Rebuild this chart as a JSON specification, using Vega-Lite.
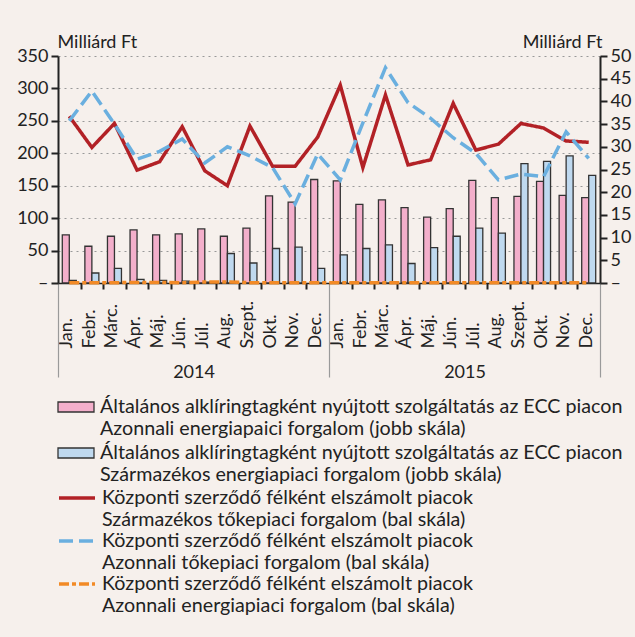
{
  "$schema": "https://vega.github.io/schema/vega-lite/v6.json",
  "width": 542,
  "height": 227,
  "autosize": {"type": "none"},
  "padding": {"left": 58, "top": 56, "right": 35, "bottom": 354},
  "background": "#f6f0ec",
  "config": {
    "view": {"stroke": null},
    "font": "Lato",
    "axis": {"labelFont": "Lato", "titleFont": "Lato", "labelColor": "#222", "titleColor": "#222", "labelFontSize": 18, "titleFontSize": 18, "titleFontWeight": "normal", "labelOverlap": false, "labelBound": false, "labelFlush": false},
    "legend": {"labelFont": "Lato", "labelFontSize": 19.7, "labelColor": "#222", "labelLimit": 800}
  },
  "datasets": {
    "bars": [
      {"month": "2014-01", "series": "Általános alklíringtagként nyújtott szolgáltatás az ECC piacon\nAzonnali energiapaici forgalom (jobb skála)", "value": 10.6},
      {"month": "2014-02", "series": "Általános alklíringtagként nyújtott szolgáltatás az ECC piacon\nAzonnali energiapaici forgalom (jobb skála)", "value": 8.1},
      {"month": "2014-03", "series": "Általános alklíringtagként nyújtott szolgáltatás az ECC piacon\nAzonnali energiapaici forgalom (jobb skála)", "value": 10.3},
      {"month": "2014-04", "series": "Általános alklíringtagként nyújtott szolgáltatás az ECC piacon\nAzonnali energiapaici forgalom (jobb skála)", "value": 11.7},
      {"month": "2014-05", "series": "Általános alklíringtagként nyújtott szolgáltatás az ECC piacon\nAzonnali energiapaici forgalom (jobb skála)", "value": 10.6},
      {"month": "2014-06", "series": "Általános alklíringtagként nyújtott szolgáltatás az ECC piacon\nAzonnali energiapaici forgalom (jobb skála)", "value": 10.8},
      {"month": "2014-07", "series": "Általános alklíringtagként nyújtott szolgáltatás az ECC piacon\nAzonnali energiapaici forgalom (jobb skála)", "value": 11.9},
      {"month": "2014-08", "series": "Általános alklíringtagként nyújtott szolgáltatás az ECC piacon\nAzonnali energiapaici forgalom (jobb skála)", "value": 10.3},
      {"month": "2014-09", "series": "Általános alklíringtagként nyújtott szolgáltatás az ECC piacon\nAzonnali energiapaici forgalom (jobb skála)", "value": 12.1},
      {"month": "2014-10", "series": "Általános alklíringtagként nyújtott szolgáltatás az ECC piacon\nAzonnali energiapaici forgalom (jobb skála)", "value": 19.2},
      {"month": "2014-11", "series": "Általános alklíringtagként nyújtott szolgáltatás az ECC piacon\nAzonnali energiapaici forgalom (jobb skála)", "value": 17.8},
      {"month": "2014-12", "series": "Általános alklíringtagként nyújtott szolgáltatás az ECC piacon\nAzonnali energiapaici forgalom (jobb skála)", "value": 22.8},
      {"month": "2015-01", "series": "Általános alklíringtagként nyújtott szolgáltatás az ECC piacon\nAzonnali energiapaici forgalom (jobb skála)", "value": 22.5},
      {"month": "2015-02", "series": "Általános alklíringtagként nyújtott szolgáltatás az ECC piacon\nAzonnali energiapaici forgalom (jobb skála)", "value": 17.3},
      {"month": "2015-03", "series": "Általános alklíringtagként nyújtott szolgáltatás az ECC piacon\nAzonnali energiapaici forgalom (jobb skála)", "value": 18.3},
      {"month": "2015-04", "series": "Általános alklíringtagként nyújtott szolgáltatás az ECC piacon\nAzonnali energiapaici forgalom (jobb skála)", "value": 16.6},
      {"month": "2015-05", "series": "Általános alklíringtagként nyújtott szolgáltatás az ECC piacon\nAzonnali energiapaici forgalom (jobb skála)", "value": 14.5},
      {"month": "2015-06", "series": "Általános alklíringtagként nyújtott szolgáltatás az ECC piacon\nAzonnali energiapaici forgalom (jobb skála)", "value": 16.4},
      {"month": "2015-07", "series": "Általános alklíringtagként nyújtott szolgáltatás az ECC piacon\nAzonnali energiapaici forgalom (jobb skála)", "value": 22.6},
      {"month": "2015-08", "series": "Általános alklíringtagként nyújtott szolgáltatás az ECC piacon\nAzonnali energiapaici forgalom (jobb skála)", "value": 18.8},
      {"month": "2015-09", "series": "Általános alklíringtagként nyújtott szolgáltatás az ECC piacon\nAzonnali energiapaici forgalom (jobb skála)", "value": 19.1},
      {"month": "2015-10", "series": "Általános alklíringtagként nyújtott szolgáltatás az ECC piacon\nAzonnali energiapaici forgalom (jobb skála)", "value": 22.4},
      {"month": "2015-11", "series": "Általános alklíringtagként nyújtott szolgáltatás az ECC piacon\nAzonnali energiapaici forgalom (jobb skála)", "value": 19.3},
      {"month": "2015-12", "series": "Általános alklíringtagként nyújtott szolgáltatás az ECC piacon\nAzonnali energiapaici forgalom (jobb skála)", "value": 18.8},
      {"month": "2014-01", "series": "Általános alklíringtagként nyújtott szolgáltatás az ECC piacon\nSzármazékos energiapiaci forgalom (jobb skála)", "value": 0.6},
      {"month": "2014-02", "series": "Általános alklíringtagként nyújtott szolgáltatás az ECC piacon\nSzármazékos energiapiaci forgalom (jobb skála)", "value": 2.2},
      {"month": "2014-03", "series": "Általános alklíringtagként nyújtott szolgáltatás az ECC piacon\nSzármazékos energiapiaci forgalom (jobb skála)", "value": 3.2},
      {"month": "2014-04", "series": "Általános alklíringtagként nyújtott szolgáltatás az ECC piacon\nSzármazékos energiapiaci forgalom (jobb skála)", "value": 0.8},
      {"month": "2014-05", "series": "Általános alklíringtagként nyújtott szolgáltatás az ECC piacon\nSzármazékos energiapiaci forgalom (jobb skála)", "value": 0.6},
      {"month": "2014-06", "series": "Általános alklíringtagként nyújtott szolgáltatás az ECC piacon\nSzármazékos energiapiaci forgalom (jobb skála)", "value": 0.4},
      {"month": "2014-07", "series": "Általános alklíringtagként nyújtott szolgáltatás az ECC piacon\nSzármazékos energiapiaci forgalom (jobb skála)", "value": 0.2},
      {"month": "2014-08", "series": "Általános alklíringtagként nyújtott szolgáltatás az ECC piacon\nSzármazékos energiapiaci forgalom (jobb skála)", "value": 6.5},
      {"month": "2014-09", "series": "Általános alklíringtagként nyújtott szolgáltatás az ECC piacon\nSzármazékos energiapiaci forgalom (jobb skála)", "value": 4.4},
      {"month": "2014-10", "series": "Általános alklíringtagként nyújtott szolgáltatás az ECC piacon\nSzármazékos energiapiaci forgalom (jobb skála)", "value": 7.6},
      {"month": "2014-11", "series": "Általános alklíringtagként nyújtott szolgáltatás az ECC piacon\nSzármazékos energiapiaci forgalom (jobb skála)", "value": 7.9},
      {"month": "2014-12", "series": "Általános alklíringtagként nyújtott szolgáltatás az ECC piacon\nSzármazékos energiapiaci forgalom (jobb skála)", "value": 3.2},
      {"month": "2015-01", "series": "Általános alklíringtagként nyújtott szolgáltatás az ECC piacon\nSzármazékos energiapiaci forgalom (jobb skála)", "value": 6.2},
      {"month": "2015-02", "series": "Általános alklíringtagként nyújtott szolgáltatás az ECC piacon\nSzármazékos energiapiaci forgalom (jobb skála)", "value": 7.6},
      {"month": "2015-03", "series": "Általános alklíringtagként nyújtott szolgáltatás az ECC piacon\nSzármazékos energiapiaci forgalom (jobb skála)", "value": 8.4},
      {"month": "2015-04", "series": "Általános alklíringtagként nyújtott szolgáltatás az ECC piacon\nSzármazékos energiapiaci forgalom (jobb skála)", "value": 4.3},
      {"month": "2015-05", "series": "Általános alklíringtagként nyújtott szolgáltatás az ECC piacon\nSzármazékos energiapiaci forgalom (jobb skála)", "value": 7.8},
      {"month": "2015-06", "series": "Általános alklíringtagként nyújtott szolgáltatás az ECC piacon\nSzármazékos energiapiaci forgalom (jobb skála)", "value": 10.3},
      {"month": "2015-07", "series": "Általános alklíringtagként nyújtott szolgáltatás az ECC piacon\nSzármazékos energiapiaci forgalom (jobb skála)", "value": 12.1},
      {"month": "2015-08", "series": "Általános alklíringtagként nyújtott szolgáltatás az ECC piacon\nSzármazékos energiapiaci forgalom (jobb skála)", "value": 11.0},
      {"month": "2015-09", "series": "Általános alklíringtagként nyújtott szolgáltatás az ECC piacon\nSzármazékos energiapiaci forgalom (jobb skála)", "value": 26.3},
      {"month": "2015-10", "series": "Általános alklíringtagként nyújtott szolgáltatás az ECC piacon\nSzármazékos energiapiaci forgalom (jobb skála)", "value": 26.8},
      {"month": "2015-11", "series": "Általános alklíringtagként nyújtott szolgáltatás az ECC piacon\nSzármazékos energiapiaci forgalom (jobb skála)", "value": 28.0},
      {"month": "2015-12", "series": "Általános alklíringtagként nyújtott szolgáltatás az ECC piacon\nSzármazékos energiapiaci forgalom (jobb skála)", "value": 23.7}
    ],
    "lines": [
      {"i": 1, "series": "Központi szerződő félként elszámolt piacok\nSzármazékos tőkepiaci forgalom (bal skála)", "value": 257},
      {"i": 2, "series": "Központi szerződő félként elszámolt piacok\nSzármazékos tőkepiaci forgalom (bal skála)", "value": 209},
      {"i": 3, "series": "Központi szerződő félként elszámolt piacok\nSzármazékos tőkepiaci forgalom (bal skála)", "value": 246},
      {"i": 4, "series": "Központi szerződő félként elszámolt piacok\nSzármazékos tőkepiaci forgalom (bal skála)", "value": 174},
      {"i": 5, "series": "Központi szerződő félként elszámolt piacok\nSzármazékos tőkepiaci forgalom (bal skála)", "value": 187},
      {"i": 6, "series": "Központi szerződő félként elszámolt piacok\nSzármazékos tőkepiaci forgalom (bal skála)", "value": 241},
      {"i": 7, "series": "Központi szerződő félként elszámolt piacok\nSzármazékos tőkepiaci forgalom (bal skála)", "value": 173},
      {"i": 8, "series": "Központi szerződő félként elszámolt piacok\nSzármazékos tőkepiaci forgalom (bal skála)", "value": 150},
      {"i": 9, "series": "Központi szerződő félként elszámolt piacok\nSzármazékos tőkepiaci forgalom (bal skála)", "value": 242},
      {"i": 10, "series": "Központi szerződő félként elszámolt piacok\nSzármazékos tőkepiaci forgalom (bal skála)", "value": 180},
      {"i": 11, "series": "Központi szerződő félként elszámolt piacok\nSzármazékos tőkepiaci forgalom (bal skála)", "value": 180},
      {"i": 12, "series": "Központi szerződő félként elszámolt piacok\nSzármazékos tőkepiaci forgalom (bal skála)", "value": 225},
      {"i": 13, "series": "Központi szerződő félként elszámolt piacok\nSzármazékos tőkepiaci forgalom (bal skála)", "value": 305},
      {"i": 14, "series": "Központi szerződő félként elszámolt piacok\nSzármazékos tőkepiaci forgalom (bal skála)", "value": 178},
      {"i": 15, "series": "Központi szerződő félként elszámolt piacok\nSzármazékos tőkepiaci forgalom (bal skála)", "value": 290},
      {"i": 16, "series": "Központi szerződő félként elszámolt piacok\nSzármazékos tőkepiaci forgalom (bal skála)", "value": 182},
      {"i": 17, "series": "Központi szerződő félként elszámolt piacok\nSzármazékos tőkepiaci forgalom (bal skála)", "value": 190},
      {"i": 18, "series": "Központi szerződő félként elszámolt piacok\nSzármazékos tőkepiaci forgalom (bal skála)", "value": 277},
      {"i": 19, "series": "Központi szerződő félként elszámolt piacok\nSzármazékos tőkepiaci forgalom (bal skála)", "value": 205},
      {"i": 20, "series": "Központi szerződő félként elszámolt piacok\nSzármazékos tőkepiaci forgalom (bal skála)", "value": 214},
      {"i": 21, "series": "Központi szerződő félként elszámolt piacok\nSzármazékos tőkepiaci forgalom (bal skála)", "value": 246},
      {"i": 22, "series": "Központi szerződő félként elszámolt piacok\nSzármazékos tőkepiaci forgalom (bal skála)", "value": 239},
      {"i": 23, "series": "Központi szerződő félként elszámolt piacok\nSzármazékos tőkepiaci forgalom (bal skála)", "value": 219},
      {"i": 24, "series": "Központi szerződő félként elszámolt piacok\nSzármazékos tőkepiaci forgalom (bal skála)", "value": 217},
      {"i": 1, "series": "Központi szerződő félként elszámolt piacok\nAzonnali tőkepiaci forgalom (bal skála)", "value": 250},
      {"i": 2, "series": "Központi szerződő félként elszámolt piacok\nAzonnali tőkepiaci forgalom (bal skála)", "value": 296},
      {"i": 3, "series": "Központi szerződő félként elszámolt piacok\nAzonnali tőkepiaci forgalom (bal skála)", "value": 245},
      {"i": 4, "series": "Központi szerződő félként elszámolt piacok\nAzonnali tőkepiaci forgalom (bal skála)", "value": 191},
      {"i": 5, "series": "Központi szerződő félként elszámolt piacok\nAzonnali tőkepiaci forgalom (bal skála)", "value": 203},
      {"i": 6, "series": "Központi szerződő félként elszámolt piacok\nAzonnali tőkepiaci forgalom (bal skála)", "value": 222},
      {"i": 7, "series": "Központi szerződő félként elszámolt piacok\nAzonnali tőkepiaci forgalom (bal skála)", "value": 185},
      {"i": 8, "series": "Központi szerződő félként elszámolt piacok\nAzonnali tőkepiaci forgalom (bal skála)", "value": 210},
      {"i": 9, "series": "Központi szerződő félként elszámolt piacok\nAzonnali tőkepiaci forgalom (bal skála)", "value": 196},
      {"i": 10, "series": "Központi szerződő félként elszámolt piacok\nAzonnali tőkepiaci forgalom (bal skála)", "value": 178},
      {"i": 11, "series": "Központi szerződő félként elszámolt piacok\nAzonnali tőkepiaci forgalom (bal skála)", "value": 122},
      {"i": 12, "series": "Központi szerződő félként elszámolt piacok\nAzonnali tőkepiaci forgalom (bal skála)", "value": 199},
      {"i": 13, "series": "Központi szerződő félként elszámolt piacok\nAzonnali tőkepiaci forgalom (bal skála)", "value": 159},
      {"i": 14, "series": "Központi szerződő félként elszámolt piacok\nAzonnali tőkepiaci forgalom (bal skála)", "value": 247},
      {"i": 15, "series": "Központi szerződő félként elszámolt piacok\nAzonnali tőkepiaci forgalom (bal skála)", "value": 332},
      {"i": 16, "series": "Központi szerződő félként elszámolt piacok\nAzonnali tőkepiaci forgalom (bal skála)", "value": 278},
      {"i": 17, "series": "Központi szerződő félként elszámolt piacok\nAzonnali tőkepiaci forgalom (bal skála)", "value": 254},
      {"i": 18, "series": "Központi szerződő félként elszámolt piacok\nAzonnali tőkepiaci forgalom (bal skála)", "value": 224},
      {"i": 19, "series": "Központi szerződő félként elszámolt piacok\nAzonnali tőkepiaci forgalom (bal skála)", "value": 200},
      {"i": 20, "series": "Központi szerződő félként elszámolt piacok\nAzonnali tőkepiaci forgalom (bal skála)", "value": 159},
      {"i": 21, "series": "Központi szerződő félként elszámolt piacok\nAzonnali tőkepiaci forgalom (bal skála)", "value": 168},
      {"i": 22, "series": "Központi szerződő félként elszámolt piacok\nAzonnali tőkepiaci forgalom (bal skála)", "value": 164},
      {"i": 23, "series": "Központi szerződő félként elszámolt piacok\nAzonnali tőkepiaci forgalom (bal skála)", "value": 233},
      {"i": 24, "series": "Központi szerződő félként elszámolt piacok\nAzonnali tőkepiaci forgalom (bal skála)", "value": 192},
      {"i": 1, "series": "Központi szerződő félként elszámolt piacok\nAzonnali energiapiaci forgalom (bal skála)", "value": 0.5},
      {"i": 2, "series": "Központi szerződő félként elszámolt piacok\nAzonnali energiapiaci forgalom (bal skála)", "value": 0.5},
      {"i": 3, "series": "Központi szerződő félként elszámolt piacok\nAzonnali energiapiaci forgalom (bal skála)", "value": 0.5},
      {"i": 4, "series": "Központi szerződő félként elszámolt piacok\nAzonnali energiapiaci forgalom (bal skála)", "value": 0.8},
      {"i": 5, "series": "Központi szerződő félként elszámolt piacok\nAzonnali energiapiaci forgalom (bal skála)", "value": 0.8},
      {"i": 6, "series": "Központi szerződő félként elszámolt piacok\nAzonnali energiapiaci forgalom (bal skála)", "value": 0.5},
      {"i": 7, "series": "Központi szerződő félként elszámolt piacok\nAzonnali energiapiaci forgalom (bal skála)", "value": 1.5},
      {"i": 8, "series": "Központi szerződő félként elszámolt piacok\nAzonnali energiapiaci forgalom (bal skála)", "value": 1.5},
      {"i": 9, "series": "Központi szerződő félként elszámolt piacok\nAzonnali energiapiaci forgalom (bal skála)", "value": 0.5},
      {"i": 10, "series": "Központi szerződő félként elszámolt piacok\nAzonnali energiapiaci forgalom (bal skála)", "value": 0.5},
      {"i": 11, "series": "Központi szerződő félként elszámolt piacok\nAzonnali energiapiaci forgalom (bal skála)", "value": 0.5},
      {"i": 12, "series": "Központi szerződő félként elszámolt piacok\nAzonnali energiapiaci forgalom (bal skála)", "value": 0.5},
      {"i": 13, "series": "Központi szerződő félként elszámolt piacok\nAzonnali energiapiaci forgalom (bal skála)", "value": 0.5},
      {"i": 14, "series": "Központi szerződő félként elszámolt piacok\nAzonnali energiapiaci forgalom (bal skála)", "value": 0.5},
      {"i": 15, "series": "Központi szerződő félként elszámolt piacok\nAzonnali energiapiaci forgalom (bal skála)", "value": 0.5},
      {"i": 16, "series": "Központi szerződő félként elszámolt piacok\nAzonnali energiapiaci forgalom (bal skála)", "value": 0.5},
      {"i": 17, "series": "Központi szerződő félként elszámolt piacok\nAzonnali energiapiaci forgalom (bal skála)", "value": 0.5},
      {"i": 18, "series": "Központi szerződő félként elszámolt piacok\nAzonnali energiapiaci forgalom (bal skála)", "value": 0.5},
      {"i": 19, "series": "Központi szerződő félként elszámolt piacok\nAzonnali energiapiaci forgalom (bal skála)", "value": 0.5},
      {"i": 20, "series": "Központi szerződő félként elszámolt piacok\nAzonnali energiapiaci forgalom (bal skála)", "value": 0.5},
      {"i": 21, "series": "Központi szerződő félként elszámolt piacok\nAzonnali energiapiaci forgalom (bal skála)", "value": 0.5},
      {"i": 22, "series": "Központi szerződő félként elszámolt piacok\nAzonnali energiapiaci forgalom (bal skála)", "value": 0.5},
      {"i": 23, "series": "Központi szerződő félként elszámolt piacok\nAzonnali energiapiaci forgalom (bal skála)", "value": 0.5},
      {"i": 24, "series": "Központi szerződő félként elszámolt piacok\nAzonnali energiapiaci forgalom (bal skála)", "value": 0.5}
    ]
  },
  "layer": [
    {
      "data": {"name": "bars"},
      "mark": {"type": "bar", "stroke": "#333333", "strokeWidth": 1.3},
      "encoding": {
        "x": {
          "field": "month", "type": "ordinal",
          "scale": {"paddingInner": 0.38, "paddingOuter": 0.19},
          "axis": {
            "orient": "bottom", "title": null, "ticks": false, "domain": false, "grid": false,
            "labelAngle": -90, "labelAlign": "left", "labelBaseline": "middle",
            "labelPadding": 65, "labelOffset": -2,
            "labelExpr": "['Jan.','Febr.','Márc.','Ápr.','Máj.','Jún.','Júl.','Aug.','Szept.','Okt.','Nov.','Dec.'][toNumber(slice(datum.value,5))-1]"
          }
        },
        "xOffset": {"field": "series", "type": "nominal", "scale": {"paddingInner": 0, "paddingOuter": 0}},
        "y": {
          "field": "value", "type": "quantitative",
          "scale": {"domain": [0, 50], "nice": false},
          "axis": {
            "orient": "right", "values": [0, 5, 10, 15, 20, 25, 30, 35, 40, 45, 50], "grid": false,
            "title": "Milliárd Ft", "titleAngle": 0, "titleAlign": "right", "titleBaseline": "middle", "titleX": 2, "titleY": -14,
            "labelPadding": 3, "tickSize": 7, "tickWidth": 2, "tickColor": "#222", "domainColor": "#222", "domainWidth": 2,
            "labelExpr": "datum.value == 0 ? '–' : datum.label"
          }
        },
        "fill": {
          "field": "series", "type": "nominal",
          "scale": {"range": ["#f3afcb", "#bfd9ef"]},
          "legend": {
            "title": null, "orient": "none", "legendX": 8, "legendY": 341, "direction": "vertical",
            "symbolType": "M-2,-0.556L2,-0.556L2,0.556L-2,0.556Z", "symbolSize": 324,
            "symbolStrokeColor": "#333333", "symbolStrokeWidth": 1.3, "symbolOpacity": 1,
            "labelOffset": 14, "padding": 0, "rowPadding": 4,
            "labelExpr": "split(datum.label, '\\n')"
          }
        }
      }
    },
    {
      "data": {"name": "lines"},
      "mark": {"type": "line", "strokeWidth": 3.5},
      "encoding": {
        "x": {
          "field": "i", "type": "quantitative",
          "scale": {"domain": [0.5, 24.5], "nice": false, "zero": false},
          "axis": {
            "orient": "bottom", "title": null, "grid": false,
            "values": [0.5, 1.5, 2.5, 3.5, 4.5, 5.5, 6.5, 7.5, 8.5, 9.5, 10.5, 11.5, 12.5, 13.5, 14.5, 15.5, 16.5, 17.5, 18.5, 19.5, 20.5, 21.5, 22.5, 23.5, 24.5],
            "domain": true, "domainColor": "#222", "domainWidth": 1.5,
            "tickSize": 94,
            "tickColor": {"condition": {"test": "datum.value == 0.5 || datum.value == 12.5 || datum.value == 24.5", "value": "#9a9a9a"}, "value": "#222"},
            "tickWidth": {"condition": {"test": "datum.value == 0.5 || datum.value == 12.5 || datum.value == 24.5", "value": 1.2}, "value": 2},
            "tickDash": {"condition": {"test": "datum.value == 0.5 || datum.value == 12.5 || datum.value == 24.5", "value": [1, 0]}, "value": [6, 300]},
            "labelAngle": 0, "labelPadding": -14,
            "labelExpr": "datum.value == 6.5 ? '2014' : (datum.value == 18.5 ? '2015' : '')"
          }
        },
        "y": {
          "field": "value", "type": "quantitative",
          "scale": {"domain": [0, 350], "nice": false},
          "axis": {
            "orient": "left", "values": [0, 50, 100, 150, 200, 250, 300, 350],
            "title": "Milliárd Ft", "titleAngle": 0, "titleAlign": "left", "titleBaseline": "middle", "titleX": -1, "titleY": -14,
            "labelPadding": 3, "tickSize": 7, "tickWidth": 2, "tickColor": "#222", "domainColor": "#222", "domainWidth": 2,
            "grid": true, "gridColor": "#999999", "gridDash": [2, 4], "gridWidth": 1.2,
            "labelExpr": "datum.value == 0 ? '–' : datum.label"
          }
        },
        "color": {
          "field": "series", "type": "nominal",
          "scale": {
            "domain": ["Központi szerződő félként elszámolt piacok\nSzármazékos tőkepiaci forgalom (bal skála)", "Központi szerződő félként elszámolt piacok\nAzonnali tőkepiaci forgalom (bal skála)", "Központi szerződő félként elszámolt piacok\nAzonnali energiapiaci forgalom (bal skála)"],
            "range": ["#b22126", "#6aafdf", "#f28a26"]
          },
          "legend": {
            "title": null, "orient": "none", "legendX": 8, "legendY": 431, "direction": "vertical",
            "symbolType": "M-2,0L2,0", "symbolSize": 324, "symbolStrokeWidth": 3.5,
            "labelOffset": 14, "padding": 0, "rowPadding": -2,
            "labelExpr": "split(datum.label, '\\n')"
          }
        },
        "strokeDash": {
          "field": "series", "type": "nominal",
          "scale": {
            "domain": ["Központi szerződő félként elszámolt piacok\nSzármazékos tőkepiaci forgalom (bal skála)", "Központi szerződő félként elszámolt piacok\nAzonnali tőkepiaci forgalom (bal skála)", "Központi szerződő félként elszámolt piacok\nAzonnali energiapiaci forgalom (bal skála)"],
            "range": [[1, 0], [14, 6], [10, 3, 4, 3]]
          },
          "legend": {
            "title": null, "orient": "none", "legendX": 8, "legendY": 431, "direction": "vertical",
            "symbolType": "M-2,0L2,0", "symbolSize": 324, "symbolStrokeWidth": 3.5,
            "labelOffset": 14, "padding": 0, "rowPadding": -2,
            "labelExpr": "split(datum.label, '\\n')"
          }
        }
      }
    }
  ],
  "resolve": {"scale": {"x": "independent", "y": "independent"}}
}
